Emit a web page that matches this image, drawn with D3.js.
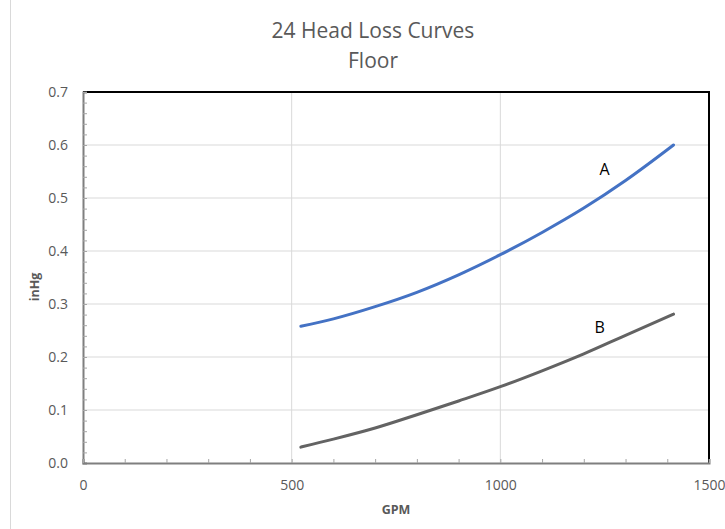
<html>
  <head>
    <meta charset="utf-8">
    <script src="https://cdn.jsdelivr.net/npm/d3@7"></script>
    <style>
      body { margin: 0; background: #fff; }
      text { font-family: "Open Sans", "Noto Sans", sans-serif; }
    </style>
  </head>
  <body>
    <script>
      var w = 725;
      var h = 529;

      // curve A (blue) and B (gray): GPM vs inHg
      var gpmA = [522, 600, 700, 800, 900, 1000, 1100, 1200, 1300, 1415];
      var lossA = [0.258, 0.272, 0.295, 0.322, 0.355, 0.393, 0.435, 0.481, 0.533, 0.600];
      var gpmB = [522, 600, 700, 800, 900, 1000, 1100, 1200, 1300, 1415];
      var lossB = [0.030, 0.045, 0.066, 0.091, 0.117, 0.144, 0.174, 0.206, 0.241, 0.281];

      var xTicks = [0, 500, 1000, 1500];
      var yTicks = [0, 0.1, 0.2, 0.3, 0.4, 0.5, 0.6, 0.7];

      // plot area edges (note: "top" is reserved on window)
      var pL = 83, pR = 709, pT = 92, pB = 463;

      var svg = d3.select("body")
                  .append("svg")
                    .attr("width", w)
                    .attr("height", h);

      var x = d3.scaleLinear().domain([0, 1500]).range([pL, pR]);
      var y = d3.scaleLinear().domain([0, 0.7]).range([pB, pT]);

      // outer chart border on the left
      svg.append("line")
         .attr("x1", 10.5).attr("x2", 10.5)
         .attr("y1", 0).attr("y2", h)
         .attr("stroke", "#d9d9d9");

      // grid
      svg.selectAll(".hgrid")
         .data(yTicks.slice(1))
         .enter()
         .append("line")
            .attr("x1", pL).attr("x2", pR)
            .attr("y1", function(d) { return y(d); })
            .attr("y2", function(d) { return y(d); })
            .attr("stroke", "#d9d9d9");

      svg.selectAll(".vgrid")
         .data(xTicks.slice(1, -1))
         .enter()
         .append("line")
            .attr("x1", function(d) { return x(d); })
            .attr("x2", function(d) { return x(d); })
            .attr("y1", pT).attr("y2", pB)
            .attr("stroke", "#d9d9d9");

      // top and right frame
      svg.append("path")
         .attr("d", "M" + pL + "," + pT + "H" + pR + "V" + pB)
         .attr("fill", "none")
         .attr("stroke", "#000")
         .attr("stroke-width", 2);

      // minor ticks, drawn inside the plot
      var yMinor = d3.range(0, 36).map(function(i) { return i * 0.02; });
      var xMinor = d3.range(0, 16).map(function(i) { return i * 100; });

      svg.append("g")
         .attr("transform", "translate(" + pL + ",0)")
         .call(d3.axisRight(y).tickValues(yMinor).tickSize(4).tickFormat(""))
         .call(function(g) {
           g.select(".domain").attr("stroke", "#7f7f7f").attr("stroke-width", 2);
           g.selectAll(".tick line").attr("stroke", "#a6a6a6");
         });

      svg.append("g")
         .attr("transform", "translate(0," + pB + ")")
         .call(d3.axisTop(x).tickValues(xMinor).tickSize(4).tickFormat(""))
         .call(function(g) {
           g.select(".domain").attr("stroke", "#7f7f7f").attr("stroke-width", 2);
           g.selectAll(".tick line").attr("stroke", "#a6a6a6");
         });

      // tick labels
      svg.append("g")
         .attr("transform", "translate(" + pL + ",0)")
         .call(d3.axisLeft(y).tickValues(yTicks).tickSize(0).tickPadding(15)
                 .tickFormat(d3.format(".1f")))
         .call(function(g) {
           g.select(".domain").remove();
           g.selectAll("text").attr("fill", "#595959").attr("font-size", 14);
         });

      svg.append("g")
         .attr("transform", "translate(0," + pB + ")")
         .call(d3.axisBottom(x).tickValues(xTicks).tickSize(0).tickPadding(17)
                 .tickFormat(d3.format("d")))
         .call(function(g) {
           g.select(".domain").remove();
           g.selectAll("text").attr("fill", "#595959").attr("font-size", 14);
         });

      // curves
      var line = d3.line()
                   .x(function(d) { return x(d[0]); })
                   .y(function(d) { return y(d[1]); })
                   .curve(d3.curveMonotoneX);

      svg.append("path")
         .attr("d", line(d3.zip(gpmA, lossA)))
         .attr("stroke", "#4472c4")
         .attr("stroke-width", 3)
         .attr("stroke-linecap", "round")
         .attr("fill", "none");

      svg.append("path")
         .attr("d", line(d3.zip(gpmB, lossB)))
         .attr("stroke", "#636363")
         .attr("stroke-width", 3)
         .attr("stroke-linecap", "round")
         .attr("fill", "none");

      // curve labels
      svg.append("text").text("A")
         .attr("x", x(1250)).attr("y", y(0.543))
         .attr("text-anchor", "middle").attr("font-size", 16)
         .attr("fill", "#000");
      svg.append("text").text("B")
         .attr("x", x(1238)).attr("y", y(0.245))
         .attr("text-anchor", "middle").attr("font-size", 16)
         .attr("fill", "#000");

      // titles
      svg.append("text").text("24 Head Loss Curves")
         .attr("x", 373).attr("y", 38)
         .attr("text-anchor", "middle").attr("font-size", 21).attr("fill", "#595959");
      svg.append("text").text("Floor")
         .attr("x", 373).attr("y", 68)
         .attr("text-anchor", "middle").attr("font-size", 21).attr("fill", "#595959");

      svg.append("text").text("GPM")
         .attr("x", 396).attr("y", 514)
         .attr("text-anchor", "middle").attr("font-size", 12.5)
         .attr("font-weight", "bold").attr("fill", "#595959");

      svg.append("text").text("inHg")
         .attr("transform", "translate(39,287) rotate(-90)")
         .attr("text-anchor", "middle").attr("font-size", 12.5)
         .attr("font-weight", "bold").attr("fill", "#595959");
    </script>
  </body>
</html>
